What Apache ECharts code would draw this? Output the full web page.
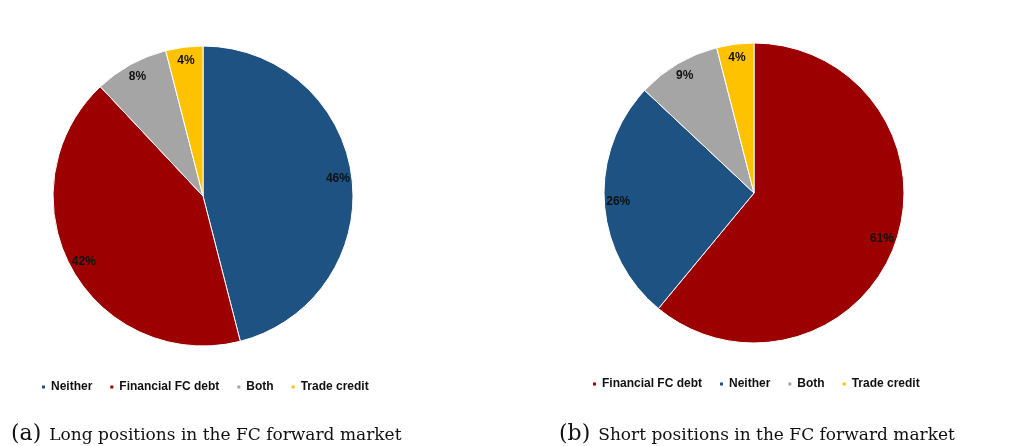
<!DOCTYPE html>
<html>
<head>
<meta charset="utf-8">
<script src="https://cdn.jsdelivr.net/npm/echarts@6/dist/echarts.min.js"></script>
<style>
  html, body { margin: 0; padding: 0; background: #fff; }
  #chart { width: 1013px; height: 446px; }
</style>
</head>
<body>
<div id="chart"></div>
<script>
// panel (a): long positions
const longNames = ['Neither', 'Financial FC debt', 'Both', 'Trade credit'];
const longValues = [46, 42, 8, 4];
// panel (b): short positions
const shortNames = ['Financial FC debt', 'Neither', 'Both', 'Trade credit'];
const shortValues = [61, 26, 9, 4];

const colors = {
  'Neither': '#1d5283',
  'Financial FC debt': '#9c0000',
  'Both': '#a5a5a5',
  'Trade credit': '#fec200'
};

const toData = (names, values) => names.map((n, i) => ({
  name: n,
  value: values[i],
  itemStyle: { color: colors[n] }
}));

const pieSeries = (names, values, center) => [
  {
    type: 'pie',
    center: center,
    radius: [0, 150],
    startAngle: 90,
    clockwise: true,
    silent: true,
    label: { show: false },
    labelLine: { show: false },
    itemStyle: { borderColor: '#fff', borderWidth: 1 },
    data: toData(names, values)
  },
  {
    // transparent ring only to place the percent labels near the rim
    type: 'pie',
    center: center,
    radius: [116, 150],
    startAngle: 90,
    clockwise: true,
    silent: true,
    legendHoverLink: false,
    itemStyle: { color: 'rgba(0,0,0,0)', borderWidth: 0 },
    label: {
      show: true,
      position: 'inside',
      formatter: '{c}%',
      color: '#111',
      fontFamily: 'Liberation Sans, Arial',
      fontWeight: 'bold',
      fontSize: 12
    },
    labelLine: { show: false },
    data: names.map((n, i) => ({ name: n, value: values[i] }))
  }
];

const legendStyle = {
  orient: 'horizontal',
  icon: 'rect',
  itemWidth: 5,
  itemHeight: 5,
  itemGap: 16,
  selectedMode: false,
  textStyle: {
    fontFamily: 'Liberation Sans, Arial',
    fontWeight: 'bold',
    fontSize: 12,
    color: '#111'
  }
};

const captionRich = {
  p: { fontFamily: '"DejaVu Serif", serif', fontSize: 22, fontWeight: 'normal', color: '#111' },
  t: { fontFamily: '"DejaVu Serif", serif', fontSize: 17, fontWeight: 'normal', color: '#111', padding: [4, 0, 0, 8] }
};

const chart = echarts.init(document.getElementById('chart'));
chart.setOption({
  backgroundColor: '#fff',
  animation: false,
  legend: [
    Object.assign({ left: 35, top: 376, data: longNames.map(n => ({ name: n, itemStyle: { color: colors[n] } })) }, legendStyle),
    Object.assign({ left: 586, top: 373, data: shortNames.map(n => ({ name: n, itemStyle: { color: colors[n] } })) }, legendStyle)
  ],
  title: [
    {
      text: '{p|(a)}{t|Long positions in the FC forward market}',
      left: 6, top: 418,
      textStyle: { fontWeight: 'normal', rich: captionRich }
    },
    {
      text: '{p|(b)}{t|Short positions in the FC forward market}',
      left: 554, top: 418,
      textStyle: { fontWeight: 'normal', rich: captionRich }
    }
  ],
  series: [
    ...pieSeries(longNames, longValues, [203, 196]),
    ...pieSeries(shortNames, shortValues, [754, 193])
  ]
});
</script>
</body>
</html>
